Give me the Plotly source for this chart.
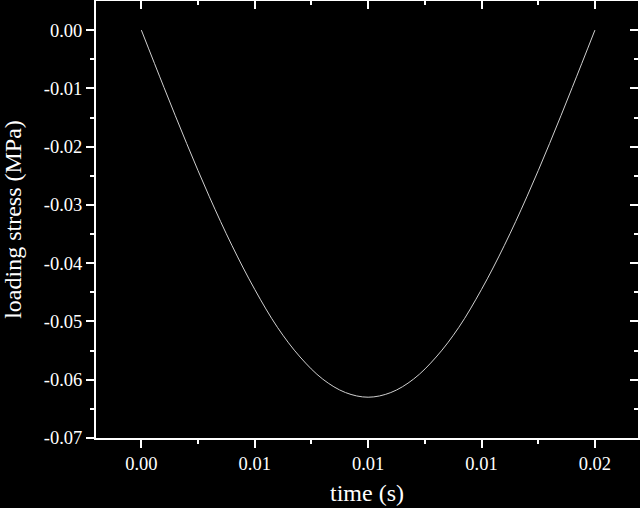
import plotly.graph_objects as go

time_s = [0.000, 0.001, 0.002, 0.003, 0.004, 0.005, 0.006, 0.007, 0.008, 0.009, 0.010,
          0.011, 0.012, 0.013, 0.014, 0.015, 0.016, 0.017, 0.018, 0.019, 0.020]
stress_mpa = [0.0, -0.00985, -0.01947, -0.0286, -0.0370, -0.0445, -0.0510, -0.0561, -0.0599, -0.0622, -0.0630,
              -0.0622, -0.0599, -0.0561, -0.0510, -0.0445, -0.0370, -0.0286, -0.01947, -0.00985, 0.0]

x_tickvals = [0.0, 0.005, 0.01, 0.015, 0.02]
x_ticktext = ["0.00", "0.01", "0.01", "0.01", "0.02"]
y_tickvals = [0.0, -0.01, -0.02, -0.03, -0.04, -0.05, -0.06, -0.07]
y_ticktext = ["0.00", "-0.01", "-0.02", "-0.03", "-0.04", "-0.05", "-0.06", "-0.07"]
x_minor = [0.0025, 0.0075, 0.0125, 0.0175]
y_minor = [-0.005, -0.015, -0.025, -0.035, -0.045, -0.055, -0.065]

FONT = "Liberation Serif"
fig = go.Figure()
fig.add_trace(go.Scatter(x=time_s, y=stress_mpa, mode="lines",
                         line=dict(color="#d0d0d0", width=1, shape="spline"),
                         showlegend=False))
fig.add_trace(go.Scatter(x=time_s, y=stress_mpa, mode="lines", xaxis="x2", yaxis="y2",
                         line=dict(color="rgba(0,0,0,0)", width=0), showlegend=False, hoverinfo="skip"))

common = dict(showgrid=False, zeroline=False, linecolor="white", linewidth=2,
              tickcolor="white", tickwidth=2, ticklen=8,
              tickfont=dict(family=FONT, size=18.5, color="white"))
xr = [-0.002, 0.0219]
yr = [-0.07, 0.005]
fig.update_layout(
    width=640, height=508,
    paper_bgcolor="black", plot_bgcolor="black",
    margin=dict(l=96, r=2, t=1, b=70),
    xaxis=dict(range=xr, tickvals=x_tickvals, ticktext=x_ticktext, ticks="outside",
               showline=True,
               minor=dict(tickvals=x_minor, ticks="outside", ticklen=4, tickcolor="white", tickwidth=2),
               title=dict(text="time (s)", font=dict(family=FONT, size=24, color="white"), standoff=11),
               **common),
    yaxis=dict(range=yr, tickvals=y_tickvals, ticktext=y_ticktext, ticks="outside",
               showline=True,
               minor=dict(tickvals=y_minor, ticks="outside", ticklen=4, tickcolor="white", tickwidth=2),
               title=dict(text="loading stress (MPa)", font=dict(family=FONT, size=24, color="white"), standoff=15),
               **common),
    xaxis2=dict(range=xr, overlaying="x", side="top", tickvals=x_tickvals, ticks="inside",
                showticklabels=False, showline=True,
                minor=dict(tickvals=x_minor, ticks="inside", ticklen=4, tickcolor="white", tickwidth=2),
                **common),
    yaxis2=dict(range=yr, overlaying="y", side="right", tickvals=y_tickvals, ticks="inside",
                showticklabels=False, showline=True,
                minor=dict(tickvals=y_minor, ticks="inside", ticklen=4, tickcolor="white", tickwidth=2),
                **common),
)
fig.write_html("out.html", config={"displayModeBar": False},
               post_script="document.body.style.margin='0';document.body.style.background='black';document.body.style.overflow='hidden';")
